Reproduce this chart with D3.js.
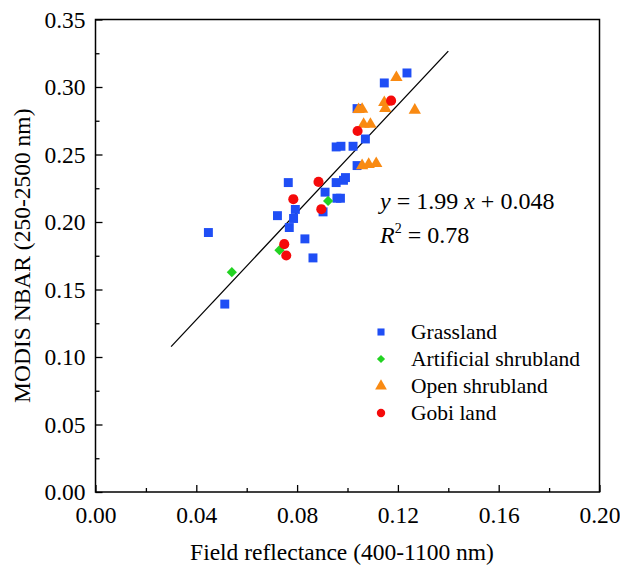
<!DOCTYPE html>
<html><head><meta charset="utf-8">
<script src="https://cdn.jsdelivr.net/npm/d3@7"></script>
<style>body{margin:0;background:#fff}svg{display:block}text{font-family:"Liberation Serif","Times New Roman",serif}</style>
</head><body><svg id="c" width="620" height="569"></svg>
<script>
const grassland = [
  [0.0448,0.1922],[0.0513,0.1392],[0.0722,0.2047],[0.0765,0.2292],[0.0793,0.2093],
  [0.0786,0.2026],[0.0769,0.1959],[0.0831,0.1875],[0.0863,0.1734],[0.0903,0.2075],
  [0.0911,0.2221],[0.0958,0.2176],[0.0972,0.2176],[0.0955,0.2292],[0.0984,0.2309],
  [0.0992,0.2329],[0.0955,0.2556],[0.0974,0.2561],[0.1022,0.2561],[0.1071,0.2615],
  [0.1038,0.2418],[0.1038,0.2840],[0.1146,0.3030],[0.1236,0.3104]
];
const artificial = [[0.0541,0.1628],[0.0730,0.1791],[0.0923,0.2156]];
const openShrub = [
  [0.1194,0.3070],[0.1267,0.2828],[0.1044,0.2833],[0.1058,0.2835],[0.1146,0.2885],
  [0.1150,0.2842],[0.1064,0.2724],[0.1091,0.2724],[0.1058,0.2418],[0.1084,0.2426],[0.1114,0.2433]
];
const gobi = [[0.0757,0.1752],[0.0749,0.1836],[0.0785,0.2169],[0.0885,0.2297],[0.0896,0.2095],[0.1040,0.2674],[0.1173,0.2899]];
const xTicks = [0,0.04,0.08,0.12,0.16,0.20];
const yTicks = [0,0.05,0.10,0.15,0.20,0.25,0.30,0.35];
const slope = 1.99, intercept = 0.048, fitRange = [0.03,0.14];
const legendNames = ["Grassland","Artificial shrubland","Open shrubland","Gobi land"];

const svg = d3.select("#c");
const L=95.5, R=599.5, T=19.5, B=492;
const x = d3.scaleLinear().domain([0,0.2]).range([L,R]);
const y = d3.scaleLinear().domain([0,0.35]).range([B,T]);
const isMajor = (arr,d) => arr.some(t=>Math.abs(t-d)<1e-9);

svg.append("rect").attr("x",L).attr("y",T).attr("width",R-L).attr("height",B-T)
  .attr("fill","none").attr("stroke","#000").attr("stroke-width",1.5);

const xAx = svg.append("g").attr("transform",`translate(0,${B})`)
  .call(d3.axisBottom(x).tickValues(d3.range(0,0.2001,0.02)).tickSizeOuter(0)
    .tickFormat(d => isMajor(xTicks,d) ? d3.format(".2f")(d) : ""));
xAx.select(".domain").remove();
xAx.selectAll(".tick line").attr("stroke","#000").attr("stroke-width",1.3)
  .attr("y2", d => isMajor(xTicks,d) ? -7 : -4);
xAx.selectAll(".tick text").attr("font-size",23.5).attr("fill","#000").attr("y",14).attr("dy","0.71em")
  .attr("font-family","Liberation Serif");

const yAx = svg.append("g").attr("transform",`translate(${L},0)`)
  .call(d3.axisLeft(y).tickValues(d3.range(0,0.3501,0.025)).tickSizeOuter(0)
    .tickFormat(d => isMajor(yTicks,d) ? d3.format(".2f")(d) : ""));
yAx.select(".domain").remove();
yAx.selectAll(".tick line").attr("stroke","#000").attr("stroke-width",1.3)
  .attr("x2", d => isMajor(yTicks,d) ? 7 : 4);
yAx.selectAll(".tick text").attr("font-size",23.5).attr("fill","#000").attr("x",-10)
  .attr("font-family","Liberation Serif");

svg.append("text").attr("x",342).attr("y",560).attr("text-anchor","middle")
  .attr("font-size",23.5).text("Field reflectance (400-1100 nm)");
svg.append("text").attr("transform",`translate(30,${(T+B)/2}) rotate(-90)`).attr("text-anchor","middle")
  .attr("font-size",23.5).text("MODIS NBAR (250-2500 nm)");

svg.append("line").attr("x1",x(fitRange[0])).attr("y1",y(slope*fitRange[0]+intercept))
  .attr("x2",x(fitRange[1])).attr("y2",y(slope*fitRange[1]+intercept))
  .attr("stroke","#000").attr("stroke-width",1.3);

const colors = ["#1f4ef5","#22d322","#f98a12","#f50a0a"];
const sym = [d3.symbolSquare, d3.symbolSquare, d3.symbolTriangle, d3.symbolCircle];
const sizes = [80, 52, 66, 80];
const groups = [grassland, artificial, openShrub, gobi];
groups.forEach((g,i)=>{
  svg.append("g").selectAll("path").data(g).join("path")
    .attr("d", d3.symbol().type(sym[i]).size(sizes[i])())
    .attr("transform", d => `translate(${x(d[0])},${y(d[1])})` + (i===1?" rotate(45)":""))
    .attr("fill", colors[i]);
});

const eq = svg.append("text").attr("x",380).attr("y",209).attr("font-size",24);
eq.append("tspan").attr("font-style","italic").text("y");
eq.append("tspan").text(" = 1.99 ");
eq.append("tspan").attr("font-style","italic").text("x");
eq.append("tspan").text(" + 0.048");
const r2 = svg.append("text").attr("x",380).attr("y",243).attr("font-size",24);
r2.append("tspan").attr("font-style","italic").text("R");
r2.append("tspan").attr("font-size",14).attr("dy",-10).text("2");
r2.append("tspan").attr("dy",10).text(" = 0.78");

const legSizes = [50, 34, 60, 55];
legendNames.forEach((n,i)=>{
  const cy = 332 + i*27;
  svg.append("path")
    .attr("d", d3.symbol().type(sym[i]).size(legSizes[i])())
    .attr("transform", `translate(381,${cy})` + (i===1?" rotate(45)":""))
    .attr("fill", colors[i]);
  svg.append("text").attr("x",411).attr("y",cy+7).attr("font-size",21.5).text(n);
});
</script></body></html>
